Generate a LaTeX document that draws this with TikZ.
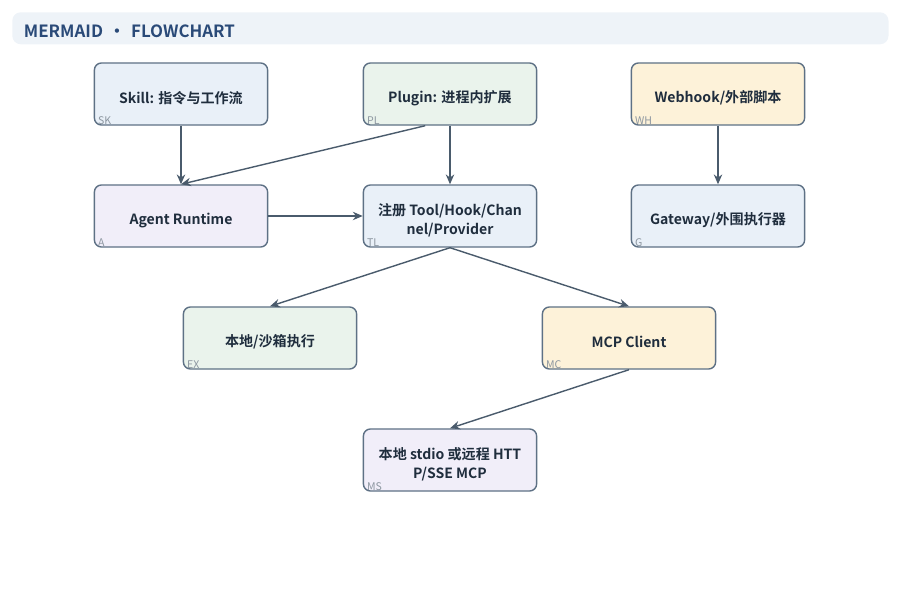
\documentclass[tikz,border=0pt]{standalone}
\usepackage{fontspec}
\setmainfont{Noto Sans CJK SC}[BoldFont={Noto Sans CJK SC Bold}]
\usetikzlibrary{arrows.meta}

\definecolor{edgecol}{HTML}{4A5B6C}
\definecolor{linecol}{HTML}{5E7185}
\definecolor{txtcol}{HTML}{1F2D3D}
\definecolor{tagcol}{HTML}{8C96A0}
\definecolor{bluefill}{HTML}{E9F0F8}
\definecolor{greenfill}{HTML}{EAF3EC}
\definecolor{yellowfill}{HTML}{FDF2D9}
\definecolor{lilacfill}{HTML}{F1EEF9}
\definecolor{headfill}{HTML}{EEF3F8}
\definecolor{headtxt}{HTML}{2A4A78}

\newcommand{\lift}{\rule{0pt}{1.4em}}

\tikzset{
    box/.style={draw=linecol, line width=1pt, rounded corners=5pt,
        minimum width=4.33cm, minimum height=1.55cm, align=center,
        text=txtcol, font=\bfseries\fontsize{10}{13.5}\selectfont,
        execute at begin node={\lift}},
    tag/.style={anchor=south west, inner xsep=3pt, inner ysep=0.5pt, text=tagcol,
        font=\fontsize{7.5}{8}\selectfont},
    flow/.style={draw=edgecol, line width=1pt, -{Stealth[length=7pt,width=6pt]}}
}

\begin{document}
\begin{tikzpicture}[x=0.025cm, y=-0.025cm]
    \useasboundingbox (0,0) rectangle (900,596);

    % header
    \node[fill=headfill, rounded corners=6pt, minimum width=21.9cm, minimum height=0.8cm,
        anchor=north west] (head) at (12,12) {};
    \node[anchor=west, text=headtxt, font=\bfseries\fontsize{12}{14}\selectfont]
        (headtext) at (19,31) {MERMAID\,\,•\,\,FLOWCHART};

    % top row
    \node[box, fill=bluefill] (sk) at (181,94) {Skill: 指令与工作流};
    \node[box, fill=greenfill] (pl) at (450,94) {Plugin: 进程内扩展};
    \node[box, fill=yellowfill] (wh) at (718,94) {Webhook/外部脚本};

    % second row
    \node[box, fill=lilacfill] (a) at (181,216) {Agent Runtime};
    \node[box, fill=bluefill] (tl) at (450,216) {\lift 注册 Tool/Hook/Chan\\nel/Provider};
    \node[box, fill=bluefill] (g) at (718,216) {Gateway/外围执行器};

    % third and fourth row
    \node[box, fill=greenfill] (ex) at (270,338) {本地/沙箱执行};
    \node[box, fill=yellowfill] (mc) at (629,338) {MCP Client};
    \node[box, fill=lilacfill] (ms) at (450,460) {\lift 本地 stdio 或远程 HTT\\P/SSE MCP};

    % ids
    \node[tag] (sk-id) at (sk.south west) {SK};
    \node[tag] (pl-id) at (pl.south west) {PL};
    \node[tag] (wh-id) at (wh.south west) {WH};
    \node[tag] (a-id) at (a.south west) {A};
    \node[tag] (tl-id) at (tl.south west) {TL};
    \node[tag] (g-id) at (g.south west) {G};
    \node[tag] (ex-id) at (ex.south west) {EX};
    \node[tag] (mc-id) at (mc.south west) {MC};
    \node[tag] (ms-id) at (ms.south west) {MS};

    % edges
    \draw[flow] (sk) -- (a);
    \draw[flow] ([xshift=-0.62cm]pl.south) -- (a.north);
    \draw[flow] (pl) -- (tl);
    \draw[flow] (wh) -- (g);
    \draw[flow] (a) -- (tl);
    \draw[flow] (tl.south) -- (ex.north);
    \draw[flow] (tl.south) -- (mc.north);
    \draw[flow] (mc.south) -- (ms.north);
\end{tikzpicture}
\end{document}
